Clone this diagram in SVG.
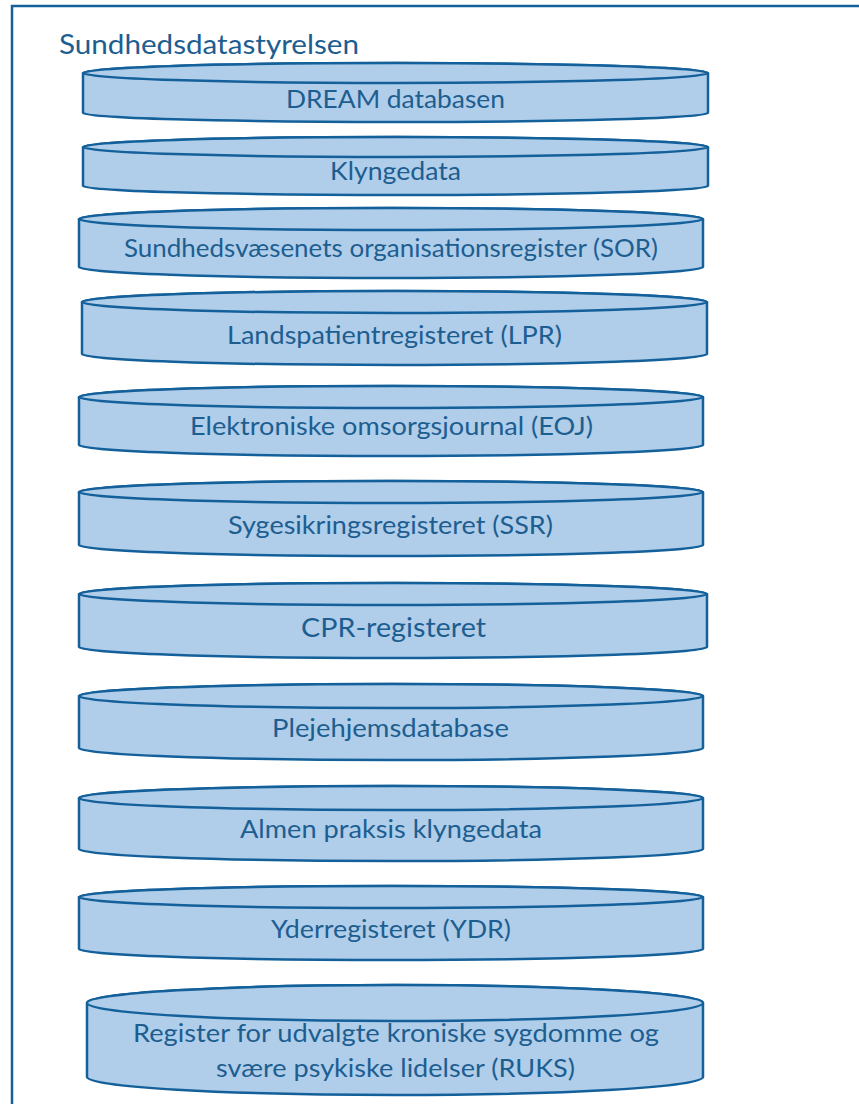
<svg xmlns="http://www.w3.org/2000/svg" width="859" height="1104" viewBox="0 0 859 1104">
<style>
.frame{fill:#ffffff;stroke:#13609a;stroke-width:2.5}
.body{fill:#b0cde9;stroke:#13609a;stroke-width:2.5;stroke-linejoin:round}
.top{fill:#b0cde9;stroke:#13609a;stroke-width:2.5}
.lbl{font-family:Lato,"Liberation Sans",sans-serif;font-size:24.5px;fill:#1d5e91;text-anchor:middle}
.title{font-family:Lato,"Liberation Sans",sans-serif;font-size:27px;fill:#1d5e91}
.big{font-size:26.5px}
</style>
<rect class="frame" x="12" y="6" width="900" height="1200"/>
<text class="title" x="59" y="54" textLength="300" lengthAdjust="spacingAndGlyphs">Sundhedsdatastyrelsen</text>
<g id="connectors"/>
<g id="n1">
<path class="body" d="M83,73 V113 A312.5,9 0 0 0 708,113 V73 A312.5,10 0 0 0 83,73 Z"/>
<ellipse class="top" cx="395.5" cy="73" rx="312.5" ry="10"/>
<text class="lbl" x="395.5" y="108" textLength="219" lengthAdjust="spacingAndGlyphs">DREAM databasen</text>
</g>
<g id="n2">
<path class="body" d="M83,147 V186 A312.5,9 0 0 0 708,186 V147 A312.5,10 0 0 0 83,147 Z"/>
<ellipse class="top" cx="395.5" cy="147" rx="312.5" ry="10"/>
<text class="lbl" x="395.5" y="180" textLength="131" lengthAdjust="spacingAndGlyphs">Klyngedata</text>
</g>
<g id="n3">
<path class="body" d="M79,219 V267 A312,11 0 0 0 703,267 V219 A312,11 0 0 0 79,219 Z"/>
<ellipse class="top" cx="391" cy="219" rx="312" ry="11"/>
<text class="lbl" x="391" y="257" textLength="534" lengthAdjust="spacingAndGlyphs">Sundhedsvæsenets organisationsregister (SOR)</text>
</g>
<g id="n4">
<path class="body" d="M82,302 V354 A312.5,11 0 0 0 707,354 V302 A312.5,11 0 0 0 82,302 Z"/>
<ellipse class="top" cx="394.5" cy="302" rx="312.5" ry="11"/>
<text class="lbl" x="394.5" y="344" textLength="335" lengthAdjust="spacingAndGlyphs">Landspatientregisteret (LPR)</text>
</g>
<g id="n5">
<path class="body" d="M79,397 V445 A312,11 0 0 0 703,445 V397 A312,11 0 0 0 79,397 Z"/>
<ellipse class="top" cx="391" cy="397" rx="312" ry="11"/>
<text class="lbl" x="391.5" y="435" textLength="403" lengthAdjust="spacingAndGlyphs">Elektroniske omsorgsjournal (EOJ)</text>
</g>
<g id="n6">
<path class="body" d="M79,492 V545 A312,11 0 0 0 703,545 V492 A312,11 0 0 0 79,492 Z"/>
<ellipse class="top" cx="391" cy="492" rx="312" ry="11"/>
<text class="lbl" x="390.5" y="534" textLength="325" lengthAdjust="spacingAndGlyphs">Sygesikringsregisteret (SSR)</text>
</g>
<g id="n7">
<path class="body" d="M79,594 V647 A314,11 0 0 0 707,647 V594 A314,11 0 0 0 79,594 Z"/>
<ellipse class="top" cx="393" cy="594" rx="314" ry="11"/>
<text class="lbl big" x="393.5" y="637" textLength="185" lengthAdjust="spacingAndGlyphs">CPR-registeret</text>
</g>
<g id="n8">
<path class="body" d="M79,696 V748 A312,12 0 0 0 703,748 V696 A312,12 0 0 0 79,696 Z"/>
<ellipse class="top" cx="391" cy="696" rx="312" ry="12"/>
<text class="lbl" x="390.5" y="737" textLength="237" lengthAdjust="spacingAndGlyphs">Plejehjemsdatabase</text>
</g>
<g id="n9">
<path class="body" d="M79,798 V849 A312,12 0 0 0 703,849 V798 A312,12 0 0 0 79,798 Z"/>
<ellipse class="top" cx="391" cy="798" rx="312" ry="12"/>
<text class="lbl" x="391" y="838" textLength="302" lengthAdjust="spacingAndGlyphs">Almen praksis klyngedata</text>
</g>
<g id="n10">
<path class="body" d="M79,897 V949 A312,11 0 0 0 703,949 V897 A312,11 0 0 0 79,897 Z"/>
<ellipse class="top" cx="391" cy="897" rx="312" ry="11"/>
<text class="lbl" x="391" y="938" textLength="240" lengthAdjust="spacingAndGlyphs">Yderregisteret (YDR)</text>
</g>
<g id="n11">
<path class="body" d="M87,1003 V1077 A308,18 0 0 0 703,1077 V1003 A308,18 0 0 0 87,1003 Z"/>
<ellipse class="top" cx="395" cy="1003" rx="308" ry="18"/>
<text class="lbl" x="396" y="1042" textLength="526" lengthAdjust="spacingAndGlyphs">Register for udvalgte kroniske sygdomme og</text>
<text class="lbl" x="395.5" y="1077" textLength="359" lengthAdjust="spacingAndGlyphs">svære psykiske lidelser (RUKS)</text>
</g>
</svg>
